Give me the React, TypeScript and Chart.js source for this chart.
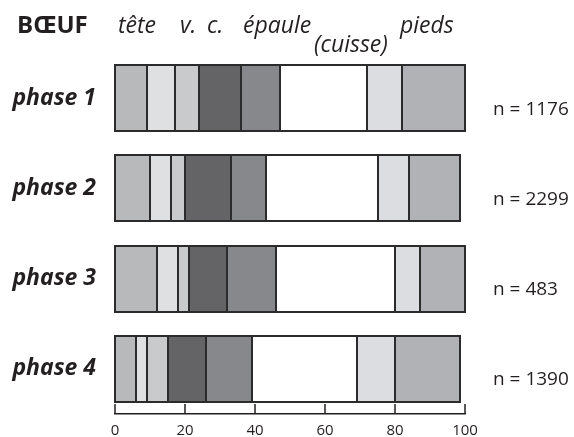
import React, { useEffect, useRef } from "react";
import { Chart, registerables } from "chart.js";

Chart.register(...registerables);

const phases = ["phase 1", "phase 2", "phase 3", "phase 4"];
const counts = ["n = 1176", "n = 2299", "n = 483", "n = 1390"];
const xTicks = [0, 20, 40, 60, 80, 100];

// segment values per phase (percent), in stacking order
const tete = [9, 10, 12, 6];
const vert = [8, 6, 6, 3];
const cotes = [7, 4, 3, 6];
const epaule = [12, 13, 11, 11];
const seg5 = [11, 10, 14, 13];
const cuisse = [25, 32, 34, 30];
const seg7 = [10, 9, 7, 11];
const pieds = [18, 14.7, 13, 18.7];

const segNames = ["tête", "v.", "c.", "épaule", "s5", "(cuisse)", "s7", "pieds"];
const segValues = [tete, vert, cotes, epaule, seg5, cuisse, seg7, pieds];
const segColors = ["#b8b9bb", "#dfe0e2", "#c9cacc", "#646466", "#87888b", "#ffffff", "#dcdde0", "#b1b2b5"];

const TEXT = "#231f20";
const FONT = '"Open Sans", "DejaVu Sans", sans-serif';

const outlines = {
  id: "outlines",
  afterDatasetsDraw(chart: any) {
    const ctx = chart.ctx;
    ctx.save();
    ctx.strokeStyle = "#2b2b2b";
    ctx.lineWidth = 2;
    chart.data.datasets.forEach((_: any, di: number) => {
      const meta = chart.getDatasetMeta(di);
      meta.data.forEach((el: any) => {
        const p = el.getProps(["x", "y", "base", "height"], true);
        const l = Math.round(Math.min(p.x, p.base));
        const r = Math.round(Math.max(p.x, p.base));
        const t = Math.round(p.y - p.height / 2);
        const b = Math.round(p.y + p.height / 2);
        ctx.strokeRect(l, t, r - l, b - t);
      });
    });
    ctx.restore();
  },
};

const overlay = {
  id: "overlay",
  afterDraw(chart: any) {
    const ctx = chart.ctx;
    const xs = chart.scales.x;
    const ys = chart.scales.y;
    const bottom = chart.chartArea.bottom;
    ctx.save();
    // upward tick marks
    ctx.strokeStyle = TEXT;
    ctx.lineWidth = 1.5;
    xTicks.forEach((v) => {
      const x = Math.round(xs.getPixelForValue(v));
      ctx.beginPath();
      ctx.moveTo(x, bottom);
      ctx.lineTo(x, bottom - 10);
      ctx.stroke();
    });
    // n labels
    ctx.fillStyle = TEXT;
    ctx.font = `19px ${FONT}`;
    ctx.textAlign = "left";
    ctx.textBaseline = "middle";
    counts.forEach((c, i) => {
      ctx.fillText(c, 493, ys.getPixelForValue(i) + 11);
    });
    // header
    ctx.textBaseline = "alphabetic";
    ctx.font = `bold 24px ${FONT}`;
    ctx.fillText("BŒUF", 17, 33);
    ctx.font = `italic 23px ${FONT}`;
    ctx.fillText("tête", 118, 33);
    ctx.fillText("v.", 180, 33);
    ctx.fillText("c.", 207, 33);
    ctx.fillText("épaule", 243, 33);
    ctx.fillText("(cuisse)", 314, 52);
    ctx.fillText("pieds", 400, 33);
    ctx.restore();
  },
};

export default function App() {
  const ref = useRef<HTMLCanvasElement>(null);
  useEffect(() => {
    document.body.style.margin = "0";
    let chart: any = null;
    let cancelled = false;
    const make = () => {
      if (cancelled || !ref.current) return;
      chart = new Chart(ref.current, {
        type: "bar",
        data: {
          labels: phases,
          datasets: segNames.map((n, i) => ({
            label: n,
            data: segValues[i],
            backgroundColor: segColors[i],
            borderWidth: 0,
            categoryPercentage: 1,
            barPercentage: 0.73,
          })),
        },
        options: {
          indexAxis: "y",
          animation: false,
          responsive: false,
          maintainAspectRatio: false,
          layout: { padding: { top: 53, right: 109, bottom: 0, left: 0 } },
          plugins: { legend: { display: false }, tooltip: { enabled: false } },
          scales: {
            x: {
              stacked: true,
              min: 0,
              max: 100,
              grid: { display: false, drawTicks: false },
              border: { display: true, color: TEXT, width: 1.5 },
              ticks: {
                stepSize: 20,
                color: TEXT,
                padding: 8,
                maxRotation: 0,
                font: { family: FONT, size: 15 },
              },
              afterFit: (s: any) => {
                s.height = 23;
              },
            },
            y: {
              stacked: true,
              grid: { display: false, drawTicks: true, tickLength: 19 },
              border: { display: false },
              ticks: {
                color: TEXT,
                padding: 0,
                font: { family: FONT, size: 23, weight: "bold", style: "italic" },
              },
              afterFit: (s: any) => {
                s.width = 115;
              },
            },
          },
        },
        plugins: [outlines, overlay],
      });
    };
    const f: any = (document as any).fonts;
    if (f && f.load) {
      Promise.all([
        f.load(`bold italic 23px "Open Sans"`),
        f.load(`italic 23px "Open Sans"`),
        f.load(`bold 24px "Open Sans"`),
        f.load(`19px "Open Sans"`),
      ])
        .catch(() => {})
        .then(make);
    } else make();
    return () => {
      cancelled = true;
      if (chart) chart.destroy();
    };
  }, []);
  return <canvas ref={ref} width={574} height={437} style={{ display: "block" }} />;
}
